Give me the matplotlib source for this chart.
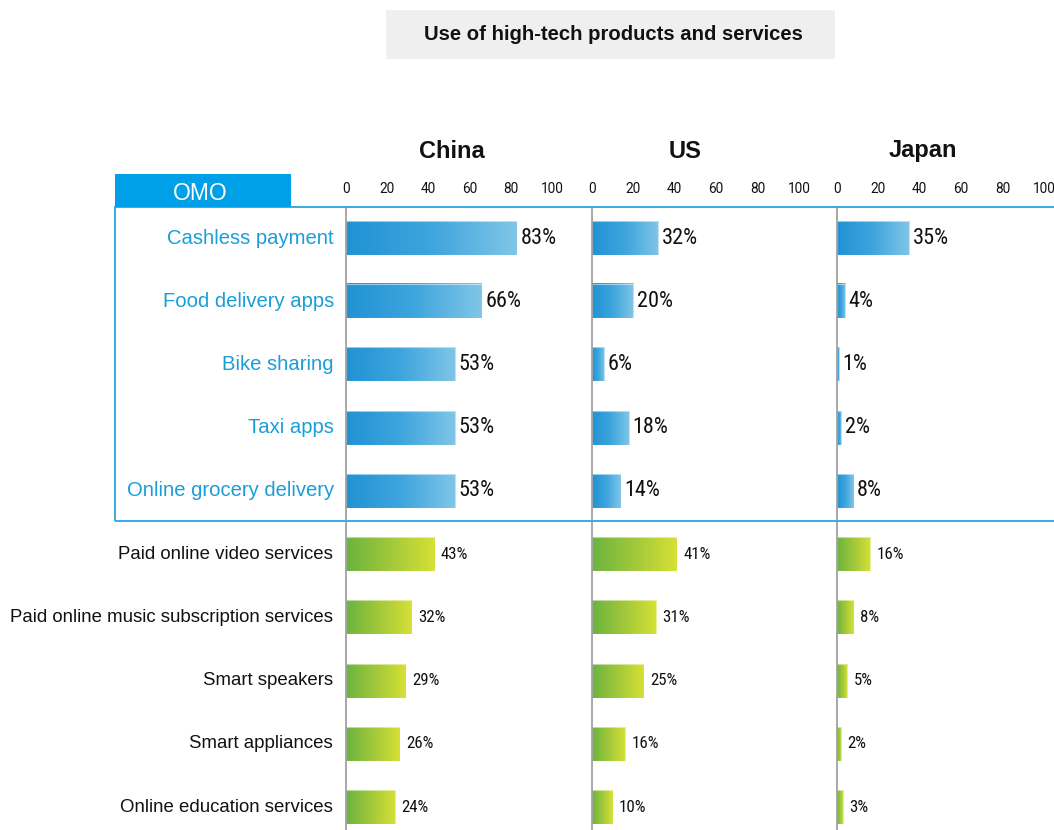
import numpy as np
import matplotlib
matplotlib.use("Agg")
import matplotlib.pyplot as plt
from matplotlib.colors import LinearSegmentedColormap
from matplotlib.patches import Rectangle
from matplotlib import font_manager

# ---- data -------------------------------------------------------------
title = "Use of high-tech products and services"
countries = ["China", "US", "Japan"]
categories = [
    "Cashless payment",
    "Food delivery apps",
    "Bike sharing",
    "Taxi apps",
    "Online grocery delivery",
    "Paid online video services",
    "Paid online music subscription services",
    "Smart speakers",
    "Smart appliances",
    "Online education services",
]
omo_count = 5  # first five categories belong to the OMO group
china = [83, 66, 53, 53, 53, 43, 32, 29, 26, 24]
us = [32, 20, 6, 18, 14, 41, 31, 25, 16, 10]
japan = [35, 4, 1, 2, 8, 16, 8, 5, 2, 3]
values = [china, us, japan]
ticks = [0, 20, 40, 60, 80, 100]

# ---- styling ----------------------------------------------------------
W, H = 1054, 830
label_font = "Liberation Sans"
names = {f.name for f in font_manager.fontManager.ttflist}
num_font = next((n for n in ["Roboto Condensed", "Liberation Sans Narrow", "Roboto"]
                 if n in names), "DejaVu Sans")
tick_font = "Roboto" if "Roboto" in names else "DejaVu Sans"

blue_cmap = LinearSegmentedColormap.from_list("blue", ["#2092d4", "#3ea5dd", "#80c6e8"])
green_cmap = LinearSegmentedColormap.from_list("green", ["#6ab33f", "#a2c83a", "#d6e135"])
omo_blue = "#00a0e9"
omo_text = "#1a9ed8"
box_edge = "#38aae2"


def fx(px):
    return px / W


def fy(py):
    return 1 - py / H


fig = plt.figure(figsize=(W / 100, H / 100), dpi=100)
fig.patch.set_facecolor("white")

# title banner
fig.patches.append(Rectangle((fx(386), fy(59)), fx(835) - fx(386), fy(10) - fy(59),
                             transform=fig.transFigure, facecolor="#efefef",
                             edgecolor="none", zorder=0))
fig.text(fx(613), fy(35), title, ha="center", va="center", fontsize=14.6,
         fontweight="bold", family=label_font, color="#111111")

# OMO group frame and tag
fig.patches.append(Rectangle((fx(115), fy(521)), fx(1070) - fx(115), fy(207) - fy(521),
                             transform=fig.transFigure, facecolor="none",
                             edgecolor=box_edge, lw=1.4, zorder=1))
fig.patches.append(Rectangle((fx(115), fy(207)), fx(291) - fx(115), fy(174) - fy(207),
                             transform=fig.transFigure, facecolor=omo_blue,
                             edgecolor="none", zorder=2))
fig.text(fx(200), fy(194), "OMO", ha="center", va="center", fontsize=16.5,
         family=label_font, color="white")

# panel geometry (pixel positions of the 0..100 range)
panel_x = [(346, 552), (592, 799), (837, 1044)]
title_px = [452, 685, 923]
top_px, bottom_px = 207, 830
row0_px, row_step = 238, (807 - 238) / 9
ylim_top = -(row0_px - top_px) / row_step
ylim_bot = (len(categories) - 1) + (bottom_px - 807) / row_step
bar_h = 34 / row_step

grad = np.linspace(0, 1, 256).reshape(1, -1)

for k, (country, vals, (x0, x1)) in enumerate(zip(countries, values, panel_x)):
    ax = fig.add_axes([fx(x0), fy(bottom_px), fx(x1) - fx(x0), fy(top_px) - fy(bottom_px)])
    ax.set_facecolor("none")
    for i, v in enumerate(vals):
        cmap = blue_cmap if i < omo_count else green_cmap
        ax.imshow(grad, cmap=cmap, aspect="auto", interpolation="bilinear",
                  extent=(0, v, i + bar_h / 2, i - bar_h / 2), zorder=2)
        ax.add_patch(Rectangle((0, i - bar_h / 2), v, bar_h, facecolor="none",
                               edgecolor="#ffffff", lw=0.8, alpha=0.5, zorder=3))
        if i < omo_count:
            ax.annotate(f"{v}%", (v, i), xytext=(2.5, 0), textcoords="offset points",
                        ha="left", va="center", fontsize=16, family=num_font,
                        color="#111111", annotation_clip=False)
        else:
            ax.annotate(f"{v}%", (v, i), xytext=(4.5, 0), textcoords="offset points",
                        ha="left", va="center", fontsize=12.2, family=num_font,
                        color="#111111", annotation_clip=False)
    ax.set_xlim(0, 100)
    ax.set_ylim(ylim_bot, ylim_top)
    ax.xaxis.tick_top()
    ax.set_xticks(ticks)
    ax.set_xticklabels([str(t) for t in ticks], family=tick_font, fontsize=9.8,
                       color="#111111")
    ax.tick_params(axis="x", length=0, pad=8)
    ax.set_yticks([])
    for side in ["top", "right", "bottom"]:
        ax.spines[side].set_visible(False)
    ax.spines["left"].set_color("#9a9a9a")
    ax.spines["left"].set_linewidth(1.2)
    ax.spines["left"].set_zorder(4)
    fig.text(fx(title_px[k]), fy(151), country, ha="center", va="center",
             fontsize=17, fontweight="bold", family=label_font, color="#111111")

# category labels
for i, cat in enumerate(categories):
    ypix = row0_px + i * row_step
    if i < omo_count:
        fig.text(fx(334), fy(ypix), cat, ha="right", va="center", fontsize=14.6,
                 family=label_font, color=omo_text)
    else:
        fig.text(fx(333), fy(ypix), cat, ha="right", va="center", fontsize=13.4,
                 family=label_font, color="#111111")

fig.savefig("out.png", dpi=100)
